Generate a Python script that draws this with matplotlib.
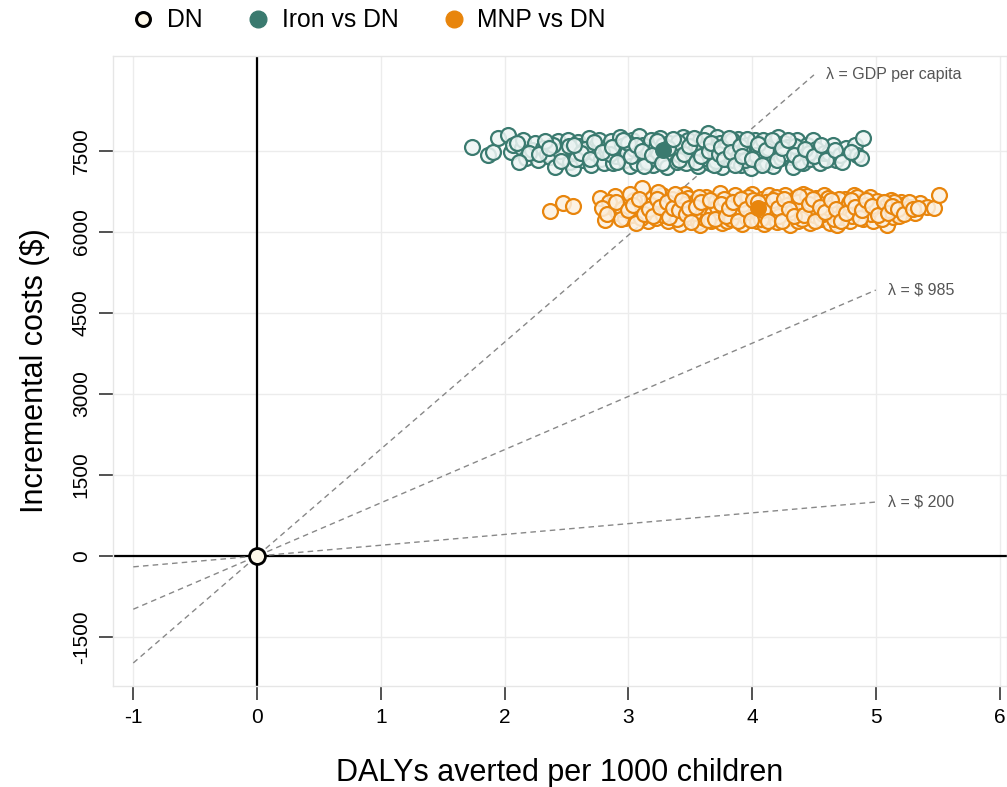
import matplotlib

matplotlib.use("Agg")
import matplotlib.pyplot as plt  # noqa: E402
from matplotlib.lines import Line2D  # noqa: E402

plt.rcParams["font.family"] = ["Liberation Sans", "DejaVu Sans"]

TEAL = "#3a7a6f"
ORANGE = "#e8850c"
GREY = "#555555"

# probabilistic sensitivity analysis draws
iron_daly = [
    1.74, 1.87, 1.91, 1.95, 2.03, 2.05, 2.07, 2.14, 2.15, 2.17,
    2.22, 2.25, 2.27, 2.31, 2.34, 2.37, 2.41, 2.43, 2.47, 2.49,
    2.51, 2.53, 2.55, 2.57, 2.59, 2.61, 2.63, 2.66, 2.68, 2.70,
    2.73, 2.74, 2.76, 2.78, 2.80, 2.82, 2.83, 2.86, 2.88, 2.90,
    2.93, 2.95, 2.97, 2.99, 3.01, 3.03, 3.05, 3.07, 3.09, 3.10,
    3.12, 3.14, 3.16, 3.18, 3.20, 3.22, 3.24, 3.26, 3.29, 3.31,
    3.33, 3.35, 3.37, 3.39, 3.42, 3.44, 3.46, 3.48, 3.50, 3.52,
    3.54, 3.56, 3.58, 3.60, 3.62, 3.64, 3.66, 3.68, 3.70, 3.72,
    3.74, 3.76, 3.78, 3.80, 3.82, 3.85, 3.87, 3.89, 3.91, 3.93,
    3.95, 3.97, 3.99, 3.99, 4.02, 4.04, 4.06, 4.09, 4.10, 4.12,
    4.15, 4.17, 4.19, 4.21, 4.23, 4.26, 4.28, 4.31, 4.33, 4.36,
    4.38, 4.41, 4.41, 4.44, 4.47, 4.49, 4.52, 4.55, 4.58, 4.62,
    4.65, 4.68, 4.71, 4.76, 4.83, 4.85, 4.88, 4.90, 2.45, 2.65,
    2.85, 3.00, 3.15, 3.28, 3.40, 3.47, 3.57, 3.63, 3.71, 3.79,
    3.84, 3.94, 4.03, 4.13, 4.25, 4.35, 4.46, 2.20, 2.39, 2.58,
    2.10, 2.28, 2.33, 2.46, 2.52, 2.62, 2.69, 2.72, 2.79, 2.87,
    2.91, 2.96, 3.02, 3.06, 3.11, 3.13, 3.19, 3.23, 3.27, 3.32,
    3.36, 3.41, 3.45, 3.49, 3.53, 3.55, 3.59, 3.61, 3.65, 3.67,
    3.69, 3.73, 3.75, 3.77, 3.81, 3.83, 3.86, 3.90, 3.92, 3.96,
    4.00, 4.05, 4.08, 4.11, 4.16, 4.20, 4.24, 4.29, 4.34, 4.39,
    4.43, 4.50, 4.56, 4.60, 4.67, 4.73, 4.80, 2.12, 2.36, 2.56,
]
iron_cost = [
    7570, 7420, 7480, 7740, 7790, 7480, 7610, 7560, 7700, 7370,
    7520, 7650, 7330, 7560, 7440, 7390, 7200, 7680, 7390, 7560,
    7700, 7290, 7190, 7480, 7670, 7590, 7330, 7420, 7740, 7250,
    7460, 7600, 7700, 7350, 7280, 7520, 7570, 7680, 7280, 7410,
    7760, 7600, 7330, 7460, 7220, 7700, 7540, 7280, 7780, 7460,
    7620, 7360, 7510, 7700, 7250, 7580, 7420, 7740, 7330, 7200,
    7650, 7470, 7560, 7300, 7430, 7760, 7590, 7700, 7350, 7390,
    7520, 7230, 7700, 7460, 7600, 7830, 7280, 7540, 7400, 7760,
    7650, 7200, 7480, 7650, 7330, 7330, 7560, 7730, 7250, 7460,
    7610, 7380, 7480, 7190, 7700, 7550, 7300, 7700, 7440, 7280,
    7600, 7220, 7500, 7760, 7380, 7650, 7570, 7390, 7200, 7700,
    7530, 7480, 7280, 7620, 7350, 7700, 7540, 7280, 7460, 7460,
    7620, 7330, 7430, 7560, 7610, 7430, 7380, 7740, 7500, 7530,
    7440, 7640, 7300, 7620, 7660, 7270, 7560, 7380, 7310, 7560,
    7700, 7330, 7420, 7560, 7440, 7600, 7470, 7460, 7620, 7360,
    7640, 7440, 7690, 7320, 7600, 7460, 7350, 7660, 7480, 7580,
    7300, 7700, 7400, 7620, 7500, 7230, 7420, 7680, 7280, 7550,
    7720, 7330, 7450, 7600, 7750, 7300, 7400, 7700, 7500, 7650,
    7250, 7450, 7580, 7350, 7750, 7480, 7250, 7600, 7400, 7720,
    7350, 7630, 7240, 7510, 7700, 7330, 7560, 7700, 7420, 7300,
    7540, 7400, 7620, 7330, 7520, 7300, 7480, 7300, 7560, 7620,
]

mnp_daly = [
    2.37, 2.47, 2.55, 2.77, 2.81, 2.87, 2.89, 2.92, 2.97, 2.99,
    3.03, 3.05, 3.08, 3.11, 3.14, 3.16, 3.19, 3.21, 3.22, 3.25,
    3.27, 3.30, 3.32, 3.34, 3.37, 3.40, 3.42, 3.44, 3.46, 3.48,
    3.50, 3.52, 3.54, 3.56, 3.58, 3.60, 3.61, 3.63, 3.65, 3.67,
    3.69, 3.71, 3.73, 3.74, 3.76, 3.78, 3.80, 3.82, 3.84, 3.86,
    3.88, 3.90, 3.92, 3.94, 3.96, 3.98, 4.00, 4.02, 4.04, 4.06,
    4.08, 4.10, 4.12, 4.14, 4.16, 4.18, 4.20, 4.23, 4.25, 4.27,
    4.29, 4.31, 4.33, 4.35, 4.37, 4.39, 4.41, 4.43, 4.45, 4.47,
    4.50, 4.52, 4.54, 4.56, 4.58, 4.60, 4.61, 4.63, 4.65, 4.67,
    4.69, 4.71, 4.73, 4.75, 4.77, 4.79, 4.82, 4.84, 4.86, 4.88,
    4.90, 4.93, 4.95, 4.98, 5.01, 5.03, 5.06, 5.09, 5.09, 5.12,
    5.14, 5.17, 5.20, 5.22, 5.25, 5.28, 5.32, 5.36, 5.41, 5.47,
    5.51, 2.84, 2.95, 3.01, 3.10, 3.18, 3.28, 3.35, 3.39, 3.45,
    3.53, 3.57, 3.62, 3.68, 3.72, 3.77, 3.83, 3.87, 3.93, 3.97,
    4.03, 4.07, 4.11, 4.15, 4.19, 4.22, 4.28, 4.32, 4.36, 4.40,
    4.44, 4.48, 4.53, 4.57, 4.62, 4.66, 4.70, 4.74, 4.78, 4.81,
    4.85, 4.91, 4.96, 5.00, 5.05, 5.11, 5.15, 5.19, 3.06, 3.24,
    2.79, 2.83, 2.90, 2.94, 3.00, 3.04, 3.09, 3.13, 3.17, 3.20,
    3.23, 3.26, 3.31, 3.33, 3.36, 3.38, 3.41, 3.43, 3.47, 3.49,
    3.51, 3.55, 3.59, 3.64, 3.66, 3.70, 3.75, 3.79, 3.81, 3.85,
    3.89, 3.91, 3.95, 3.99, 4.01, 4.05, 4.09, 4.13, 4.17, 4.21,
    4.24, 4.26, 4.30, 4.34, 4.38, 4.42, 4.46, 4.49, 4.51, 4.55,
    4.59, 4.64, 4.68, 4.72, 4.76, 4.80, 4.83, 4.87, 4.89, 4.92,
    4.97, 5.02, 5.07, 5.10, 5.13, 5.18, 5.23, 5.27, 5.30, 5.34,
]
mnp_cost = [
    6390, 6540, 6480, 6630, 6220, 6480, 6670, 6350, 6260, 6500,
    6320, 6600, 6430, 6810, 6390, 6200, 6630, 6480, 6260, 6550,
    6690, 6390, 6200, 6500, 6330, 6570, 6150, 6440, 6700, 6630,
    6270, 6440, 6560, 6180, 6130, 6370, 6260, 6650, 6500, 6200,
    6440, 6580, 6300, 6720, 6160, 6400, 6200, 6570, 6320, 6680,
    6480, 6440, 6150, 6600, 6260, 6380, 6700, 6520, 6200, 6330,
    6620, 6140, 6460, 6680, 6280, 6540, 6180, 6570, 6390, 6680,
    6260, 6130, 6480, 6620, 6200, 6350, 6700, 6440, 6570, 6170,
    6320, 6630, 6400, 6250, 6690, 6500, 6630, 6170, 6360, 6560,
    6130, 6390, 6280, 6620, 6480, 6200, 6690, 6330, 6440, 6580,
    6250, 6400, 6640, 6200, 6570, 6330, 6450, 6130, 6500, 6600,
    6280, 6350, 6560, 6500, 6400, 6470, 6350, 6540, 6470, 6440,
    6680, 6560, 6420, 6700, 6260, 6500, 6320, 6620, 6250, 6520,
    6350, 6640, 6450, 6330, 6470, 6620, 6250, 6390, 6510, 6640,
    6400, 6250, 6560, 6400, 6640, 6300, 6500, 6380, 6550, 6240,
    6660, 6450, 6540, 6330, 6440, 6250, 6620, 6380, 6530, 6290,
    6640, 6500, 6330, 6430, 6240, 6410, 6560, 6300, 6160, 6750,
    6440, 6330, 6560, 6250, 6400, 6500, 6620, 6330, 6420, 6300,
    6620, 6460, 6560, 6270, 6440, 6700, 6400, 6600, 6330, 6450,
    6180, 6470, 6550, 6220, 6600, 6250, 6520, 6300, 6450, 6560,
    6200, 6620, 6420, 6230, 6600, 6560, 6400, 6200, 6600, 6450,
    6200, 6620, 6420, 6300, 6670, 6320, 6520, 6620, 6200, 6470,
    6380, 6600, 6420, 6200, 6350, 6600, 6470, 6260, 6400, 6600,
    6480, 6320, 6560, 6350, 6480, 6420, 6330, 6560, 6420, 6440,
]

# mean of each strategy
iron_mean = (3.28, 7510)
mnp_mean = (4.05, 6440)

# willingness-to-pay thresholds: label, slope ($ per DALY), x range
wtp_labels = ["λ = GDP per capita", "λ = $ 985", "λ = $ 200"]
wtp_slopes = [1980, 985, 200]
wtp_xmax = [4.5, 5.0, 5.0]

x_ticks = [-1, 0, 1, 2, 3, 4, 5, 6]
y_ticks = [-1500, 0, 1500, 3000, 4500, 6000, 7500]

fig = plt.figure(figsize=(10.07, 7.87), dpi=100)
ax = fig.add_axes([0.1122, 0.1283, 0.8878, 0.8005])

ax.set_xlim(-1.164, 6.06)
ax.set_ylim(-2407, 9259)
ax.set_xticks(x_ticks)
ax.set_yticks(y_ticks)
ax.grid(True, color="#ececec", lw=1.0)
ax.set_axisbelow(True)
for sp in ax.spines.values():
    sp.set_color("#e6e6e6")
    sp.set_linewidth(1.0)

ax.axhline(0, color="black", lw=1.6, zorder=2)
ax.axvline(0, color="black", lw=1.6, zorder=2)

for lab, k, xm in zip(wtp_labels, wtp_slopes, wtp_xmax):
    ax.plot([-1, xm], [-k, k * xm], ls=(0, (4, 3)), color="#888888", lw=1.0, zorder=2)
    ax.text(xm + 0.1, k * xm, lab, color=GREY, fontsize=11.5, ha="left", va="center")

ax.scatter(iron_daly, iron_cost, s=115, facecolors=(0.93, 0.96, 0.955, 0.85),
           edgecolors=TEAL, linewidths=1.6, zorder=3)
ax.scatter(mnp_daly, mnp_cost, s=115, facecolors=(0.99, 0.94, 0.88, 0.85),
           edgecolors=ORANGE, linewidths=1.6, zorder=3)
ax.scatter(*iron_mean, s=125, color=TEAL, zorder=4)
ax.scatter(*mnp_mean, s=125, color=ORANGE, zorder=4)
ax.scatter(0, 0, s=130, facecolors="#fdf8ea", edgecolors="black", linewidths=2.0, zorder=5)

ax.tick_params(length=10, width=1.2, color="#333333", labelsize=15, pad=6)
ax.tick_params(axis="y", labelrotation=90)
for t in ax.get_yticklabels():
    t.set_va("center")
ax.set_xticklabels([str(v) for v in x_ticks])
ax.set_yticklabels([str(v) for v in y_ticks])

ax.set_xlabel("DALYs averted per 1000 children", fontsize=22, labelpad=22)
ax.set_ylabel("Incremental costs ($)", fontsize=22, labelpad=16)

handles = [
    Line2D([], [], ls="none", marker="o", ms=10, mfc="#fdf8ea", mec="black", mew=2.2),
    Line2D([], [], ls="none", marker="o", ms=12, mfc=TEAL, mec=TEAL),
    Line2D([], [], ls="none", marker="o", ms=12, mfc=ORANGE, mec=ORANGE),
]
fig.legend(handles, ["DN", "Iron vs DN", "MNP vs DN"], loc="center left",
           bbox_to_anchor=(0.108, 0.974), ncol=3, frameon=False, fontsize=17.8,
           handlelength=1.0, handletextpad=0.45, columnspacing=1.75)

fig.savefig("out.png", dpi=100)
